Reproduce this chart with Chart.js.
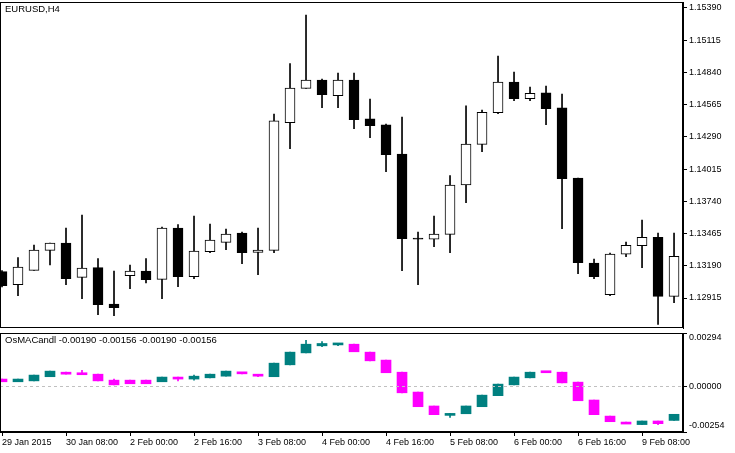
<!DOCTYPE html>
<html><head><meta charset="utf-8">
<script src="https://cdn.jsdelivr.net/npm/chart.js@4"></script>
<style>html,body{margin:0;padding:0;background:#fff;}#w1{position:absolute;left:0;top:0;width:735px;height:330px}#w2{position:absolute;left:0;top:330px;width:735px;height:123px}</style>
</head><body>
<div id="w1"><canvas id="c1"></canvas></div>
<div id="w2"><canvas id="c2"></canvas></div>
<script>
const timeLabels = ["29 Jan 2015","30 Jan 08:00","2 Feb 00:00","2 Feb 16:00","3 Feb 08:00","4 Feb 00:00","4 Feb 16:00","5 Feb 08:00","6 Feb 00:00","6 Feb 16:00","9 Feb 08:00"];
const priceTicks = [1.12915,1.13190,1.13465,1.13740,1.14015,1.14290,1.14565,1.14840,1.15115,1.15390];
const oscTicks = [-0.00254,0,0.00294];
const openP  = [1.13140,1.13029,1.13151,1.13322,1.13384,1.13091,1.13174,1.12864,1.13105,1.13145,1.13074,1.13512,1.13097,1.13310,1.13390,1.13470,1.13305,1.13322,1.14411,1.14704,1.14775,1.14642,1.14775,1.14443,1.14392,1.14144,1.13427,1.13416,1.13458,1.13879,1.14226,1.14497,1.14758,1.14616,1.14665,1.14537,1.13939,1.13214,1.12943,1.13288,1.13362,1.13433,1.12929];
const closeP = [1.13020,1.13179,1.13325,1.13384,1.13080,1.13171,1.12858,1.12832,1.13145,1.13071,1.13512,1.13097,1.13316,1.13410,1.13461,1.13302,1.13325,1.14426,1.14707,1.14775,1.14650,1.14775,1.14437,1.14386,1.14138,1.13421,1.13416,1.13461,1.13879,1.14229,1.14500,1.14758,1.14616,1.14662,1.14531,1.13933,1.13216,1.13097,1.13290,1.13364,1.13433,1.12929,1.13270];
const highP  = [1.13150,1.13259,1.13367,1.13384,1.13512,1.13623,1.13251,1.13145,1.13197,1.13251,1.13521,1.13541,1.13615,1.13546,1.13504,1.13478,1.13512,1.14485,1.14915,1.15330,1.14784,1.14835,1.14835,1.14613,1.14400,1.14460,1.13478,1.13615,1.13959,1.14554,1.14519,1.14980,1.14844,1.14716,1.14724,1.14656,1.13939,1.13248,1.13299,1.13393,1.13581,1.13470,1.13470];
const lowP   = [1.13010,1.12935,1.13151,1.13197,1.13029,1.12909,1.12773,1.12764,1.12995,1.13043,1.12909,1.13012,1.13080,1.13302,1.13327,1.13208,1.13114,1.13302,1.14189,1.14704,1.14539,1.14539,1.14360,1.14283,1.13993,1.13148,1.13029,1.13353,1.13302,1.13729,1.14164,1.14488,1.14599,1.14599,1.14394,1.13507,1.13123,1.13080,1.12935,1.13268,1.13174,1.12690,1.12875];
const oscOpen  = [0.00039,0.00024,0.00029,0.00052,0.00077,0.00072,0.00066,0.00033,0.00033,0.00033,0.00024,0.00050,0.00039,0.00046,0.00055,0.00072,0.00061,0.00052,0.00118,0.00184,0.00223,0.00228,0.00232,0.00188,0.00144,0.00077,-0.00033,-0.00110,-0.00158,-0.00153,-0.00114,-0.00053,0.00007,0.00046,0.00077,0.00077,0.00022,-0.00077,-0.00166,-0.00199,-0.00213,-0.00193,-0.00190];
const oscClose = [0.00024,0.00039,0.00061,0.00083,0.00066,0.00063,0.00029,0.00007,0.00013,0.00013,0.00050,0.00039,0.00055,0.00066,0.00083,0.00068,0.00055,0.00127,0.00188,0.00232,0.00236,0.00232,0.00190,0.00140,0.00074,-0.00037,-0.00114,-0.00158,-0.00151,-0.00110,-0.00050,0.00011,0.00050,0.00077,0.00074,0.00018,-0.00081,-0.00158,-0.00197,-0.00208,-0.00193,-0.00208,-0.00156];
const oscHigh  = [0.00039,0.00039,0.00061,0.00083,0.00077,0.00088,0.00066,0.00039,0.00033,0.00033,0.00050,0.00050,0.00061,0.00066,0.00083,0.00072,0.00061,0.00127,0.00188,0.00254,0.00247,0.00232,0.00232,0.00188,0.00144,0.00077,-0.00033,-0.00110,-0.00151,-0.00110,-0.00050,0.00011,0.00050,0.00077,0.00077,0.00077,0.00022,-0.00077,-0.00166,-0.00199,-0.00193,-0.00193,-0.00156];
const oscLow   = [0.00024,0.00024,0.00029,0.00052,0.00066,0.00063,0.00029,0.00007,0.00013,0.00013,0.00024,0.00029,0.00033,0.00046,0.00055,0.00068,0.00052,0.00052,0.00118,0.00184,0.00219,0.00224,0.00190,0.00140,0.00074,-0.00037,-0.00114,-0.00158,-0.00173,-0.00153,-0.00114,-0.00053,0.00007,0.00046,0.00074,0.00018,-0.00081,-0.00158,-0.00197,-0.00208,-0.00213,-0.00213,-0.00190];

const FONT = {family:'"Liberation Sans", Arial, sans-serif', size: 9};
Chart.defaults.font = FONT;
Chart.defaults.color = '#000';
Chart.defaults.animation = false;
const dec=v=>(v<0?'-':'')+Math.abs(v).toFixed(5);

function frame(textFn, zero){
  return {id:'frame', afterDatasetsDraw(ch){
    const a=ch.chartArea, c=ch.ctx; c.save();
    if(zero){const y=ch.scales.y.getPixelForValue(0);c.strokeStyle='#c0c0c0';c.setLineDash([3,3]);c.beginPath();c.moveTo(a.left,Math.round(y)+0.5);c.lineTo(a.right,Math.round(y)+0.5);c.stroke();c.setLineDash([]);
      c.font='9px "Liberation Sans", Arial';c.fillStyle='#000';c.textBaseline='middle';c.textAlign='left';
      oscTicks.forEach(v=>{let py=ch.scales.y.getPixelForValue(v);py=Math.min(Math.max(py,a.top+5),a.bottom-6);c.fillText(dec(v),a.right+6,py);});
      c.textAlign='left';}
    c.strokeStyle='#000';c.lineWidth=1;c.strokeRect(a.left+0.5,a.top+0.5,a.right-a.left-1,a.bottom-a.top-1);
    c.font='9.5px "Liberation Sans", Arial';c.fillStyle='#000';c.textBaseline='top';c.fillText(textFn(),5,a.top+3);
    c.restore();}};
}
function yAx(min,max,ticks,cb,show){
  return {position:'right',min,max,
    afterBuildTicks:s=>{s.ticks=ticks.map(v=>({value:v}));},
    afterFit:s=>{s.width=52;s.paddingTop=0;s.paddingBottom=0;},
    grid:{drawOnChartArea:false,tickLength:4,color:'#000'},border:{color:'#000'},
    ticks:{display:show,padding:2,callback:cb,font:FONT}};
}
const idx = openP.map((_,i)=>i);
new Chart(document.getElementById('c1'),{
  type:'bar',
  data:{datasets:[
    {data:idx.map(i=>({x:i,y:[lowP[i],highP[i]]})),backgroundColor:'#000',barThickness:1,grouped:false,order:2},
    {data:idx.map(i=>({x:i,y:[openP[i],closeP[i]]})),backgroundColor:idx.map(i=>closeP[i]>=openP[i]?'#fff':'#000'),borderColor:'#000',borderWidth:1,borderSkipped:false,barThickness:10,grouped:false,order:1}
  ]},
  options:{responsive:true,maintainAspectRatio:false,layout:{padding:{top:2,bottom:2,left:0,right:0}},
    plugins:{legend:{display:false},tooltip:{enabled:false}},
    scales:{x:{type:'linear',min:-0.125,max:42.56,display:false,offset:false},
      y:yAx(1.12659,1.15441,priceTicks,v=>v.toFixed(5),true)}},
  plugins:[frame(()=> 'EURUSD,H4')]
});
new Chart(document.getElementById('c2'),{
  type:'bar',
  data:{datasets:[
    {data:idx.map(i=>({x:i,y:[oscLow[i],oscHigh[i]]})),backgroundColor:idx.map(i=>oscClose[i]>=oscOpen[i]?'#008080':'#ff00ff'),barThickness:1,grouped:false,order:2},
    {data:idx.map(i=>({x:i,y:[oscOpen[i],oscClose[i]]})),backgroundColor:idx.map(i=>oscClose[i]>=oscOpen[i]?'#008080':'#ff00ff'),borderWidth:0,barThickness:10,minBarLength:2,grouped:false,order:1}
  ]},
  options:{responsive:true,maintainAspectRatio:false,layout:{padding:{top:3,bottom:0,left:0,right:0}},
    plugins:{legend:{display:false},tooltip:{enabled:false}},
    scales:{
      x:{type:'linear',min:-0.125,max:42.56,offset:false,
        afterBuildTicks:s=>{s.ticks=timeLabels.map((_,k)=>({value:k*4}));},
        afterFit:s=>{s.height=21;s.paddingLeft=0;s.paddingRight=0;},
        grid:{drawOnChartArea:false,offset:false,tickLength:4,color:'#000'},border:{color:'#000'},
        ticks:{align:'start',maxRotation:0,autoSkip:false,padding:1,callback:v=>timeLabels[v/4]}},
      y:yAx(-0.00254,0.00294,oscTicks,dec,false)
    }},
  plugins:[frame(()=> 'OsMACandl '+[oscOpen[42],oscHigh[42],oscLow[42],oscClose[42]].map(dec).join(' '),true)]
});
</script>
</body></html>
